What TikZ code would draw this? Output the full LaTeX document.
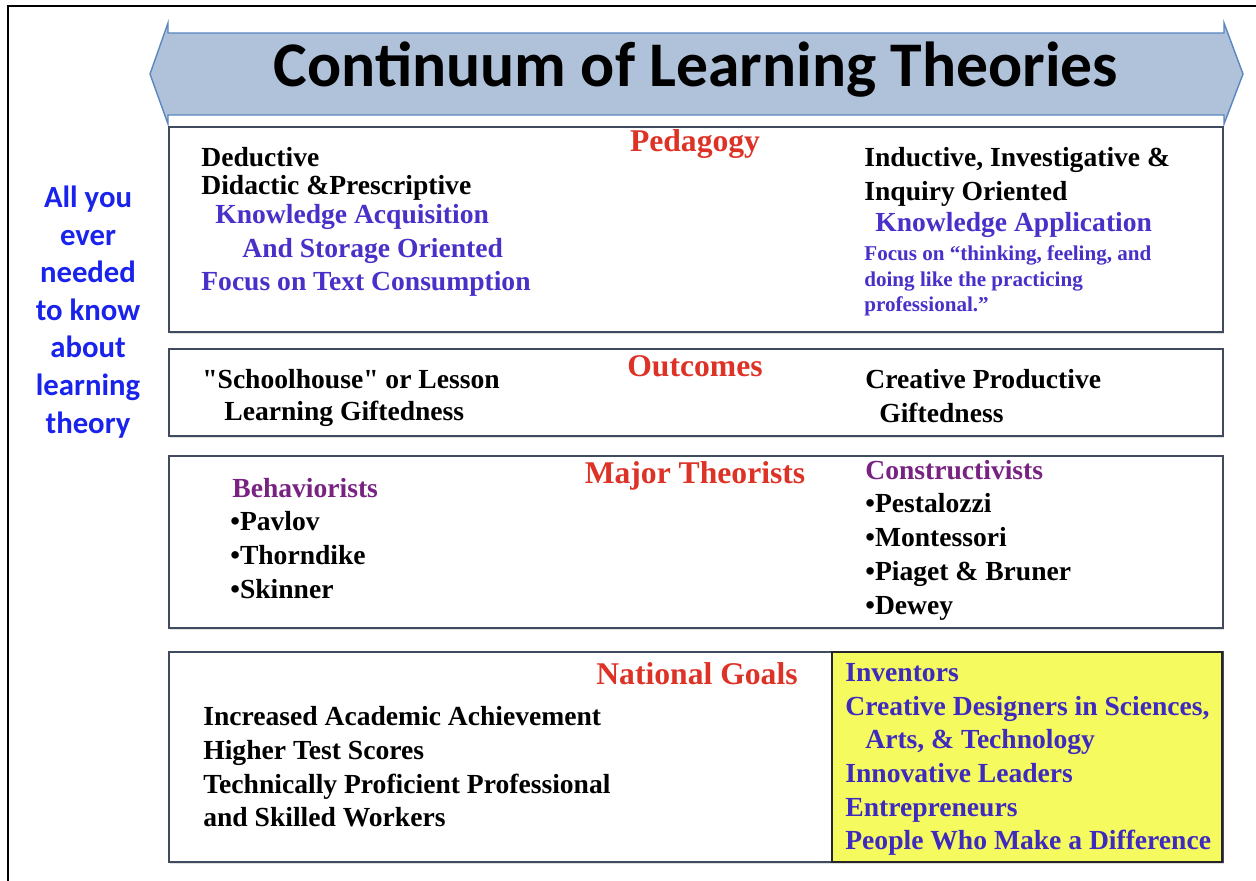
\documentclass[tikz,border=0pt]{standalone}
\usepackage{fontspec}
\setmainfont{Liberation Serif}
\newfontfamily\headfont{Carlito}
\usetikzlibrary{shadows}

\definecolor{arrowfill}{RGB}{176,194,218}
\definecolor{arrowline}{RGB}{91,134,192}
\definecolor{panelline}{RGB}{65,75,95}
\definecolor{headred}{RGB}{221,51,39}
\definecolor{ideablue}{RGB}{72,48,200}
\definecolor{groupviolet}{RGB}{120,35,130}
\definecolor{sideblue}{RGB}{25,35,235}
\definecolor{goalyellow}{RGB}{245,250,95}
\definecolor{goalblue}{RGB}{62,42,190}

\tikzset{
  panel/.style={draw=panelline, line width=1.1pt, fill=white,
    drop shadow={shadow xshift=0.6pt, shadow yshift=-1pt, opacity=0.25}},
  body/.style={anchor=base west, inner sep=0pt, font=\bfseries\fontsize{15.7}{18}\selectfont},
  smalltxt/.style={body, font=\bfseries\fontsize{12}{14}\selectfont},
  heading/.style={anchor=base, inner sep=0pt, text=headred, font=\bfseries\fontsize{18}{21}\selectfont},
}

\begin{document}
\begin{tikzpicture}[x=0.02cm, y=-0.02cm]

    \useasboundingbox (0,0) rectangle (1256,881);

    % ===== Frame (top and left edges) =====
    \draw[line width=1.1pt] (1262,6) -- (8,6) -- (8,887);

    % ===== Double arrow with title =====
    \filldraw[fill=arrowfill, draw=arrowline, line width=0.8pt]
        (150,74) -- (168,23) -- (168,33) -- (1224,33) -- (1224,23) -- (1243,74)
        -- (1224,124) -- (1224,115) -- (168,115) -- (168,124) -- cycle;
    \node[anchor=base, inner sep=0pt, font=\headfont\bfseries\fontsize{36.2}{40}\selectfont]
        (title) at (696,87) {Continuum of Learning Theories};

    % ===== Side note =====
    \node[align=center, text=sideblue, font=\headfont\bfseries\fontsize{17.5}{21.4}\selectfont]
        (side) at (88,312) {All you\\ever\\needed\\to know\\about\\learning\\theory};

    % ===== Panels =====
    \draw[panel] (169,127) rectangle (1223,332);
    \draw[panel] (169,349) rectangle (1223,436);
    \draw[panel] (169,456) rectangle (1223,628);
    \draw[panel] (169,652) rectangle (1223,862);
    \filldraw[fill=goalyellow, draw=black!85, line width=1.3pt] (832,652) rectangle (1222,862);

    % ===== Pedagogy =====
    \node[heading] (ped) at (695,152) {Pedagogy};
    \node[body] (ded) at (201,167) {Deductive};
    \node[body] (did) at (201,195) {Didactic \&Prescriptive};
    \node[body, text=ideablue] (kacq) at (215,224) {Knowledge Acquisition};
    \node[body, text=ideablue] (kstore) at (242,258) {And Storage Oriented};
    \node[body, text=ideablue] (ftext) at (201,291) {Focus on Text Consumption};

    \node[body] (ind) at (864,167) {Inductive, Investigative \&};
    \node[body] (inq) at (864,201) {Inquiry Oriented};
    \node[body, text=ideablue] (kapp) at (875,232) {Knowledge Application};
    \node[smalltxt, text=ideablue] (fthink) at (864,261) {Focus on “thinking, feeling, and};
    \node[smalltxt, text=ideablue] (fdoing) at (864,287) {doing like the practicing};
    \node[smalltxt, text=ideablue] (fprof) at (864,312) {professional.”};

    % ===== Outcomes =====
    \node[heading] (out) at (695,377) {Outcomes};
    \node[body] (school) at (202,388) {\textquotedbl Schoolhouse\textquotedbl{} or Lesson};
    \node[body] (lgift) at (224,420) {Learning Giftedness};
    \node[body] (cprod) at (865,388) {Creative Productive};
    \node[body] (cgift) at (879,422) {Giftedness};

    % ===== Major theorists =====
    \node[heading] (theo) at (695,483) {Major Theorists};
    \node[body, text=groupviolet] (beh) at (232,497) {Behaviorists};
    \foreach \who [count=\k] in {Pavlov, Thorndike, Skinner}
        \node[body] (beh\k) at (230,{497+33.7*\k}) {•\who};
    \node[body, text=groupviolet] (con) at (865,479) {Constructivists};
    \foreach \who [count=\k] in {Pestalozzi, Montessori, Piaget \& Bruner, Dewey}
        \node[body] (con\k) at (865,{479+33.8*\k}) {•\who};

    % ===== National goals =====
    \node[heading] (goals) at (697,684) {National Goals};
    \foreach \goal [count=\k] in {Increased Academic Achievement, Higher Test Scores,
            Technically Proficient Professional, and Skilled Workers}
        \node[body] (goal\k) at (203,{692+33.7*\k}) {\goal};

    \node[body, text=goalblue] (inv) at (845,681) {Inventors};
    \node[body, text=goalblue] (des) at (845,715) {Creative Designers in Sciences,};
    \node[body, text=goalblue] (arts) at (865,748) {Arts, \& Technology};
    \node[body, text=goalblue] (lead) at (845,782) {Innovative Leaders};
    \node[body, text=goalblue] (entr) at (845,816) {Entrepreneurs};
    \node[body, text=goalblue] (diff) at (845,849) {People Who Make a Difference};

\end{tikzpicture}
\end{document}
